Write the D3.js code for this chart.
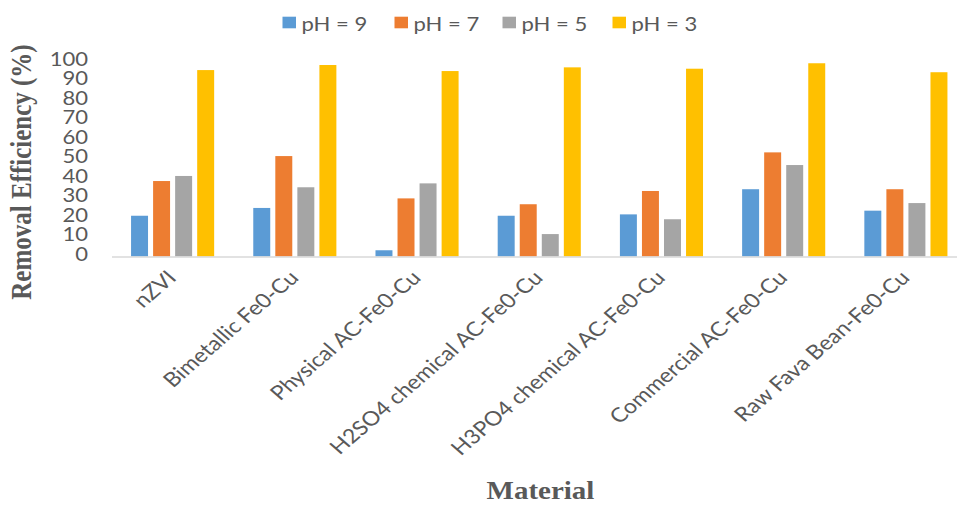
<!DOCTYPE html>
<html>
<head>
<meta charset="utf-8">
<script src="https://cdn.jsdelivr.net/npm/d3@7"></script>
<style>
  html, body { margin: 0; padding: 0; background: #fff; }
  svg { display: block; }
</style>
</head>
<body>
<svg id="chart" width="957" height="505"></svg>
<script>
const categories = ["nZVI", "Bimetallic Fe0-Cu", "Physical AC-Fe0-Cu", "H2SO4 chemical AC-Fe0-Cu",
  "H3PO4 chemical AC-Fe0-Cu", "Commercial AC-Fe0-Cu", "Raw Fava Bean-Fe0-Cu"];
const seriesNames = ["pH = 9", "pH = 7", "pH = 5", "pH = 3"];
const pH9 = [20.9, 24.9, 3.2, 20.9, 21.6, 34.5, 23.5];
const pH7 = [38.7, 51.5, 29.8, 26.8, 33.6, 53.4, 34.5];
const pH5 = [41.3, 35.5, 37.5, 11.5, 19.1, 46.9, 27.4];
const pH3 = [95.6, 98.2, 95.1, 97.0, 96.3, 99.1, 94.5];
const yTicks = [0, 10, 20, 30, 40, 50, 60, 70, 80, 90, 100];
const colors = ["#5B9BD5", "#ED7D31", "#A5A5A5", "#FFC000"];

const seriesValues = [pH9, pH7, pH5, pH3];
const SX = 1.16; // horizontal stretch of the original image
const textColor = "#595959";

const svg = d3.select("#chart");

const x0 = d3.scaleBand().domain(categories).range([111.5, 967])
  .paddingInner(0.32).paddingOuter(0.16);
const x1 = d3.scaleBand().domain(d3.range(seriesNames.length)).range([0, x0.bandwidth()])
  .paddingInner(0.23);
const y = d3.scaleLinear().domain([0, 100]).range([256.5, 61.5]);

// bars
const groups = svg.append("g").selectAll("g").data(categories).join("g")
  .attr("transform", d => `translate(${x0(d)},0)`);
groups.selectAll("rect")
  .data((c, ci) => seriesValues.map((vals, si) => ({ si, v: vals[ci] })))
  .join("rect")
  .attr("x", d => x1(d.si))
  .attr("width", x1.bandwidth())
  .attr("y", d => y(d.v))
  .attr("height", d => y(0) - y(d.v))
  .attr("fill", d => colors[d.si]);

// axis line
svg.append("line")
  .attr("x1", 112).attr("x2", 957)
  .attr("y1", y(0) + 0.5).attr("y2", y(0) + 0.5)
  .attr("stroke", "#D9D9D9").attr("stroke-width", 1.5);

// y tick labels
svg.append("g").selectAll("text").data(yTicks).join("text")
  .attr("transform", d => `translate(88,${y(d) - 2.5}) scale(${SX},1)`)
  .attr("text-anchor", "end")
  .attr("dy", "0.36em")
  .attr("font-family", "Lato, 'Open Sans', sans-serif")
  .attr("font-size", 19)
  .attr("fill", textColor)
  .text(d => d);

// x labels
svg.append("g").selectAll("text").data(categories).join("text")
  .attr("transform", d => `translate(${x0(d) + x0.bandwidth() / 2 + 5},279) scale(${SX},1) rotate(-45)`)
  .attr("text-anchor", "end")
  .attr("font-family", "Lato, 'Open Sans', sans-serif")
  .attr("font-size", 20)
  .attr("fill", textColor)
  .text(d => d);

// axis titles
svg.append("text")
  .attr("transform", `translate(31,172) scale(${SX},1) rotate(-90)`)
  .attr("text-anchor", "middle")
  .attr("font-family", "'Liberation Serif', 'Times New Roman', serif")
  .attr("font-weight", "bold")
  .attr("font-size", 25)
  .attr("fill", textColor)
  .text("Removal Efficiency (%)");

svg.append("text")
  .attr("transform", `translate(540.5,499) scale(${SX},1)`)
  .attr("text-anchor", "middle")
  .attr("font-family", "'Liberation Serif', 'Times New Roman', serif")
  .attr("font-weight", "bold")
  .attr("font-size", 25)
  .attr("fill", textColor)
  .text("Material");

// legend
const legendX = [282.5, 394.5, 502.5, 612.5];
const legend = svg.append("g").selectAll("g").data(seriesNames).join("g")
  .attr("transform", (d, i) => `translate(${legendX[i]},0)`);
legend.append("rect")
  .attr("x", 0).attr("y", 16.7).attr("width", 13.5).attr("height", 11.6)
  .attr("fill", (d, i) => colors[i]);
legend.append("text")
  .attr("transform", `translate(19,31) scale(${SX},1)`)
  .attr("font-family", "Lato, 'Open Sans', sans-serif")
  .attr("font-size", 19)
  .attr("fill", textColor)
  .text(d => d);
</script>
</body>
</html>
